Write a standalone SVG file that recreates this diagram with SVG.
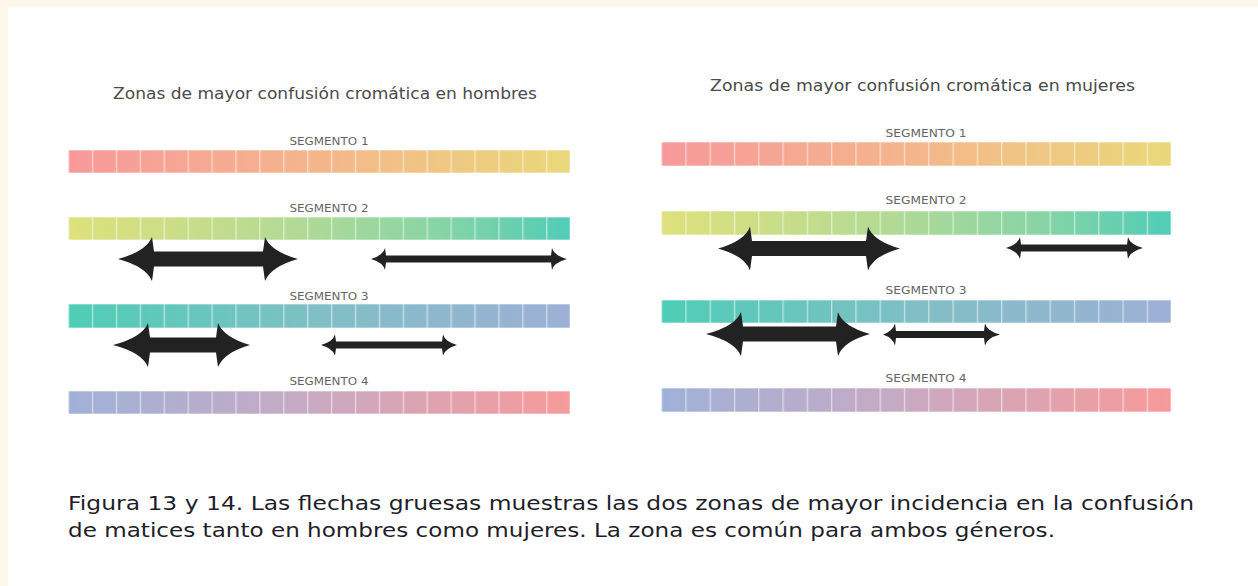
<svg xmlns="http://www.w3.org/2000/svg" width="1258" height="586" viewBox="0 0 1258 586">
<defs>
<style>
.title{font-family:"DejaVu Sans","Liberation Sans",sans-serif;font-size:15px;fill:#4a4a4a}
.seg{font-family:"DejaVu Sans","Liberation Sans",sans-serif;font-size:11px;fill:#666;text-anchor:middle}
.cap{font-family:"DejaVu Sans","Liberation Sans",sans-serif;font-size:19px;fill:#1e1e2a}
.bar{stroke:#ffffff;stroke-opacity:0.6;stroke-width:1}
.arrow{fill:#222222}
</style>
<linearGradient id="g1" x1="0" y1="0" x2="1" y2="0">
<stop offset="0" stop-color="#f7999b"/><stop offset="0.5" stop-color="#f4b68b"/><stop offset="1" stop-color="#ead87a"/>
</linearGradient>
<linearGradient id="g2" x1="0" y1="0" x2="1" y2="0">
<stop offset="0" stop-color="#dfe17b"/><stop offset="0.45" stop-color="#b2da95"/><stop offset="0.75" stop-color="#86d4a6"/><stop offset="1" stop-color="#50ccb6"/>
</linearGradient>
<linearGradient id="g3" x1="0" y1="0" x2="1" y2="0">
<stop offset="0" stop-color="#4ecdb5"/><stop offset="0.5" stop-color="#80bfc5"/><stop offset="1" stop-color="#9db0d6"/>
</linearGradient>
<linearGradient id="g4" x1="0" y1="0" x2="1" y2="0">
<stop offset="0" stop-color="#9fb1d8"/><stop offset="0.45" stop-color="#c5aac4"/><stop offset="1" stop-color="#f79a9a"/>
</linearGradient>
<pattern id="cellsL" patternUnits="userSpaceOnUse" x="68" y="0" width="23.905" height="10">
<rect x="0" y="0" width="1.3" height="10" fill="#ffffff" fill-opacity="0.55"/>
</pattern>
<pattern id="cellsR" patternUnits="userSpaceOnUse" x="661" y="0" width="24.286" height="10">
<rect x="0" y="0" width="1.3" height="10" fill="#ffffff" fill-opacity="0.55"/>
</pattern>
</defs>
<rect x="0" y="0" width="1258" height="586" fill="#fdf8ea"/>
<rect x="8" y="7" width="1250" height="579" fill="#ffffff"/>

<g id="title-hombres"><text class="title" x="113" y="99" textLength="424" lengthAdjust="spacingAndGlyphs">Zonas de mayor confusión cromática en hombres</text></g>
<g id="title-mujeres"><text class="title" x="710" y="91" textLength="425" lengthAdjust="spacingAndGlyphs">Zonas de mayor confusión cromática en mujeres</text></g>

<g id="h-seg1"><text class="seg" x="329" y="145" textLength="79" lengthAdjust="spacingAndGlyphs">SEGMENTO 1</text>
<rect class="bar" x="68" y="150" width="502" height="23" fill="url(#g1)"/><rect x="68" y="150" width="502" height="23" fill="url(#cellsL)"/></g>
<g id="h-seg2"><text class="seg" x="329" y="212" textLength="79" lengthAdjust="spacingAndGlyphs">SEGMENTO 2</text>
<rect class="bar" x="68" y="217" width="502" height="23" fill="url(#g2)"/><rect x="68" y="217" width="502" height="23" fill="url(#cellsL)"/></g>
<g id="h-seg3"><text class="seg" x="329" y="300" textLength="79" lengthAdjust="spacingAndGlyphs">SEGMENTO 3</text>
<rect class="bar" x="68" y="304" width="502" height="24" fill="url(#g3)"/><rect x="68" y="304" width="502" height="24" fill="url(#cellsL)"/></g>
<g id="h-seg4"><text class="seg" x="329" y="385" textLength="79" lengthAdjust="spacingAndGlyphs">SEGMENTO 4</text>
<rect class="bar" x="68" y="391" width="502" height="23" fill="url(#g4)"/><rect x="68" y="391" width="502" height="23" fill="url(#cellsL)"/></g>

<g id="m-seg1"><text class="seg" x="926" y="137" textLength="81" lengthAdjust="spacingAndGlyphs">SEGMENTO 1</text>
<rect class="bar" x="661" y="142" width="510" height="24" fill="url(#g1)"/><rect x="661" y="142" width="510" height="24" fill="url(#cellsR)"/></g>
<g id="m-seg2"><text class="seg" x="926" y="204" textLength="81" lengthAdjust="spacingAndGlyphs">SEGMENTO 2</text>
<rect class="bar" x="661" y="211" width="510" height="24" fill="url(#g2)"/><rect x="661" y="211" width="510" height="24" fill="url(#cellsR)"/></g>
<g id="m-seg3"><text class="seg" x="926" y="294" textLength="81" lengthAdjust="spacingAndGlyphs">SEGMENTO 3</text>
<rect class="bar" x="661" y="300" width="510" height="23" fill="url(#g3)"/><rect x="661" y="300" width="510" height="23" fill="url(#cellsR)"/></g>
<g id="m-seg4"><text class="seg" x="926" y="382" textLength="81" lengthAdjust="spacingAndGlyphs">SEGMENTO 4</text>
<rect class="bar" x="661" y="388" width="510" height="24" fill="url(#g4)"/><rect x="661" y="388" width="510" height="24" fill="url(#cellsR)"/></g>

<g id="connectors">
<path class="arrow" d="M118,259 Q146,251.5 152,237 L154,251.5 L263,251.5 L265,237 Q271,251.5 298,259 Q271,266.5 265,281 L263,266.5 L154,266.5 L152,281 Q146,266.5 118,259 Z"/>
<path class="arrow" d="M371,259 Q383,255.5 385,248 L386,255.5 L551,255.5 L552,248 Q554,255.5 567,259 Q554,262.5 552,270 L551,262.5 L386,262.5 L385,270 Q383,262.5 371,259 Z"/>
<path class="arrow" d="M113,345 Q142,337.5 148,323 L150,337.5 L216,337.5 L218,323 Q224,337.5 250,345 Q224,352.5 218,367 L216,352.5 L150,352.5 L148,367 Q142,352.5 113,345 Z"/>
<path class="arrow" d="M321,345 Q333,341.5 335,334.5 L336,341.5 L442,341.5 L443,334.5 Q445,341.5 457,345 Q445,348.5 443,355.5 L442,348.5 L336,348.5 L335,355.5 Q333,348.5 321,345 Z"/>
<path class="arrow" d="M718,248.5 Q745,241 750,226.5 L752,241 L866,241 L868,226.5 Q873,241 900,248.5 Q873,256 868,270.5 L866,256 L752,256 L750,270.5 Q745,256 718,248.5 Z"/>
<path class="arrow" d="M1006,248 Q1018,244.5 1020,237 L1021,244.5 L1127,244.5 L1128,237 Q1130,244.5 1143,248 Q1130,251.5 1128,259 L1127,251.5 L1021,251.5 L1020,259 Q1018,251.5 1006,248 Z"/>
<path class="arrow" d="M706,334 Q735,326.5 741,312 L743,326.5 L836,326.5 L838,312 Q843,326.5 870,334 Q843,341.5 838,356 L836,341.5 L743,341.5 L741,356 Q735,341.5 706,334 Z"/>
<path class="arrow" d="M883,334.5 Q893,331 895,323.5 L896,331 L984,331 L985,323.5 Q987,331 1000,334.5 Q987,338 985,345.5 L984,338 L896,338 L895,345.5 Q893,338 883,334.5 Z"/>
</g>

<g id="caption">
<text class="cap" x="68" y="510" textLength="1126" lengthAdjust="spacingAndGlyphs">Figura 13 y 14. Las flechas gruesas muestras las dos zonas de mayor incidencia en la confusión</text>
<text class="cap" x="68" y="537" textLength="987" lengthAdjust="spacingAndGlyphs">de matices tanto en hombres como mujeres. La zona es común para ambos géneros.</text>
</g>
</svg>
